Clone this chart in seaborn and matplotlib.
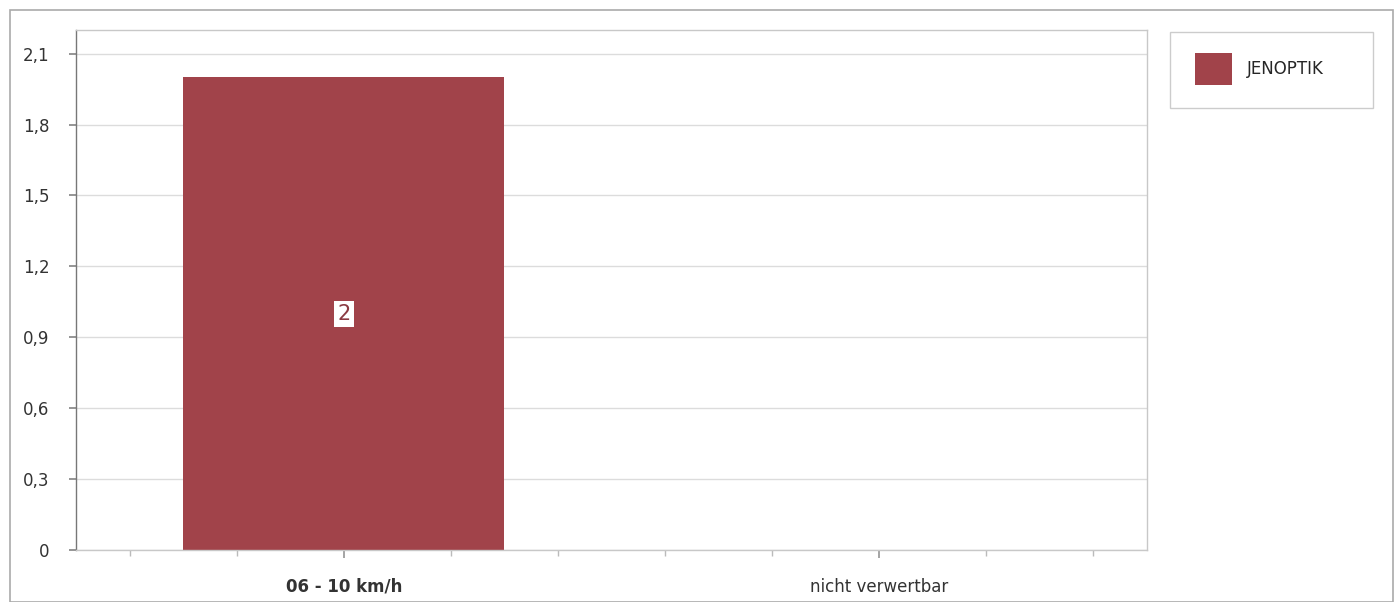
import matplotlib
matplotlib.use("Agg")
import matplotlib.pyplot as plt
import matplotlib.ticker as mticker
from matplotlib.patches import Rectangle
import seaborn as sns
import pandas as pd

categories = ["06 - 10 km/h", "nicht verwertbar"]
values = [2, 0]
series = "JENOPTIK"
y_ticks = [0, 0.3, 0.6, 0.9, 1.2, 1.5, 1.8, 2.1]

df = pd.DataFrame({"Kategorie": categories, "Wert": values, "Serie": [series] * len(categories)})

sns.set_theme(style="white")
plt.rcParams["font.family"] = ["DejaVu Sans"]

W, H = 1399, 602
fig = plt.figure(figsize=(W / 100, H / 100), dpi=100)
ax = fig.add_axes([76 / W, 1 - 550 / H, (1147 - 76) / W, (550 - 30) / H])

bar_color = "#a1434a"
sns.barplot(data=df, x="Kategorie", y="Wert", hue="Serie", palette=[bar_color],
            dodge=False, width=0.6, ax=ax, saturation=1, edgecolor="none")

ax.set_xlim(-0.5, 1.5)
ax.set_ylim(0, 2.2)
ax.set_yticks(y_ticks)


def fmt(v, p):
    if abs(v) < 1e-9:
        return "0"
    return f"{v:.1f}".replace(".", ",")


ax.yaxis.set_major_formatter(mticker.FuncFormatter(fmt))
ax.set_xlabel("")
ax.set_ylabel("")
ax.grid(axis="y", color="#dcdcdc", linewidth=1)
ax.set_axisbelow(True)

for s in ["top", "right", "bottom"]:
    ax.spines[s].set_color("#c8c8c8")
    ax.spines[s].set_linewidth(1)
ax.spines["left"].set_color("#777777")
ax.spines["left"].set_linewidth(1)

ax.xaxis.set_minor_locator(mticker.FixedLocator([-0.4, -0.2, 0.2, 0.4, 0.6, 0.8, 1.2, 1.4]))
ax.tick_params(axis="x", which="major", length=6, color="#999999", labelsize=12, pad=14, bottom=True)
ax.tick_params(axis="x", which="minor", length=4, color="#bbbbbb", bottom=True)
ax.tick_params(axis="y", which="major", length=5, color="#888888", labelsize=12, left=True, pad=14)
for lbl in ax.get_xticklabels() + ax.get_yticklabels():
    lbl.set_color("#333333")
for lbl in ax.get_xticklabels():
    if lbl.get_text() == categories[0]:
        lbl.set_fontweight("bold")

for cont in ax.containers:
    labels = [str(v) if v else "" for v in values]
    ax.bar_label(cont, labels=labels, label_type="center", fontsize=15, color="#8b3a42",
                 bbox=dict(boxstyle="square,pad=0.15", facecolor="white", edgecolor="none"))

leg = ax.get_legend()
if leg is not None:
    leg.remove()
handles = [Rectangle((0, 0), 1, 1, facecolor=bar_color, edgecolor="none")]
fig.legend(handles, [series], loc="center left", bbox_to_anchor=(1195 / W, 1 - 69 / H),
           frameon=False, fontsize=12, handlelength=2.2, handleheight=2.6,
           borderpad=0, handletextpad=0.9, borderaxespad=0)

fig.patches.append(Rectangle((1170 / W, 1 - 108 / H), (1373 - 1170) / W, (108 - 32) / H,
                             transform=fig.transFigure, fill=False, edgecolor="#cccccc", linewidth=1))
fig.patches.append(Rectangle((10 / W, 0), (1393 - 10) / W, (592) / H, transform=fig.transFigure,
                             fill=False, edgecolor="#aaaaaa", linewidth=1.2))

fig.savefig("out.png", dpi=100)
